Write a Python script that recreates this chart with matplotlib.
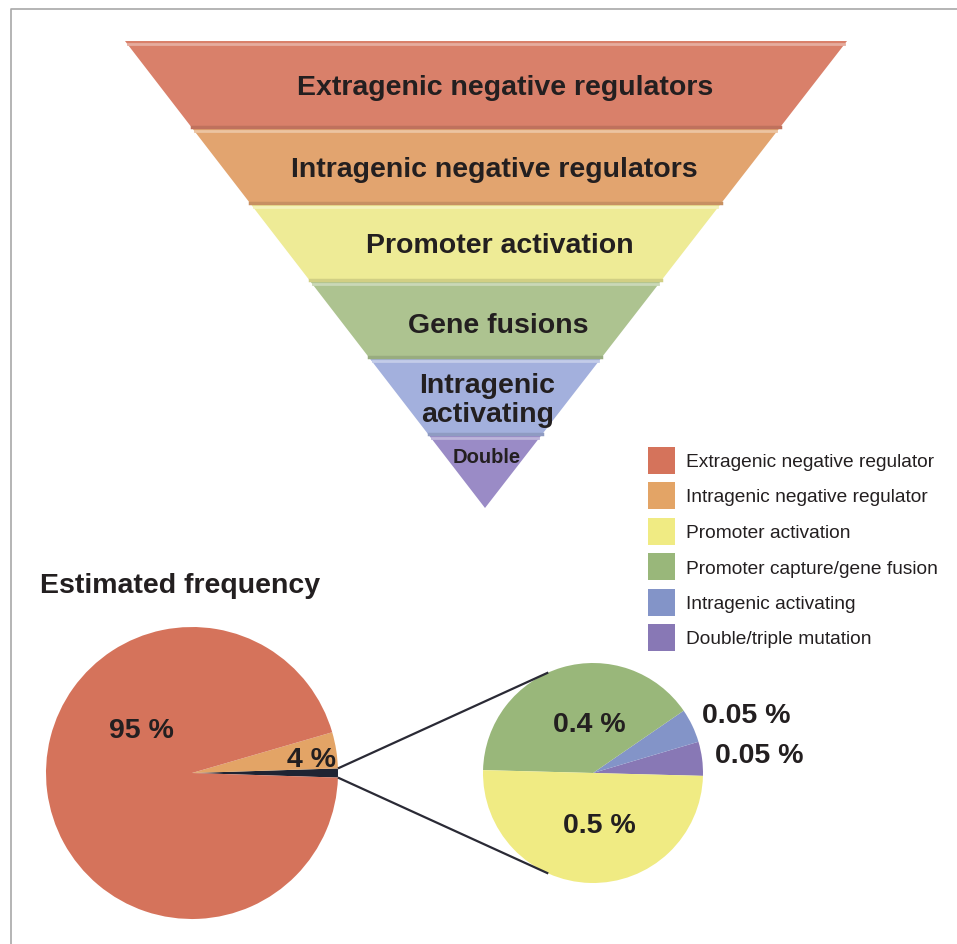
import numpy as np
import matplotlib
matplotlib.use("Agg")
import matplotlib.pyplot as plt
from matplotlib.patches import Polygon, Rectangle
from matplotlib.colors import to_rgb

plt.rcParams["font.family"] = ["Liberation Sans", "DejaVu Sans"]

# funnel layers, top to bottom
funnel_labels = ["Extragenic negative regulators", "Intragenic negative regulators",
                 "Promoter activation", "Gene fusions", "Intragenic\nactivating", "Double"]
funnel_colors = ["#d9806a", "#e2a46f", "#eeeb96", "#adc390", "#a3b0dd", "#9a8bc6"]

legend_labels = ["Extragenic negative regulator", "Intragenic negative regulator",
                 "Promoter activation", "Promoter capture/gene fusion",
                 "Intragenic activating", "Double/triple mutation"]
pie_colors = ["#d5735b", "#e3a466", "#f0eb83", "#99b77a", "#8394c8", "#8878b5"]

# estimated frequency (%)
extragenic = 95
intragenic_neg = 4
promoter = 0.5
fusion = 0.4
intra_act = 0.05
double = 0.05

H = 944
def fy(p):
    return H - p

fig = plt.figure(figsize=(9.57, 9.44), dpi=100)
ax = fig.add_axes([0, 0, 1, 1])
ax.set_xlim(0, 957)
ax.set_ylim(0, H)
ax.axis("off")

txt = "#231f20"

# frame lines
ax.plot([11, 11, 957], [fy(944), fy(9), fy(9)], color="#a8a8a8", lw=1.2)

# ---- funnel ----
top_y, apex_y = 41, 508
top_l, top_r, apex_x = 125, 847, 485
bounds = [41, 128, 204, 281, 358, 435, 508]

def edges(y):
    t = (y - top_y) / (apex_y - top_y)
    return top_l + t * (apex_x - top_l), top_r + t * (apex_x - top_r)

def shade(c, f):
    r = np.array(to_rgb(c))
    if f < 1:
        return tuple(r * f)
    return tuple(r + (1 - r) * (f - 1))

for i, col in enumerate(funnel_colors):
    y0, y1 = bounds[i], bounds[i + 1]
    l0, r0 = edges(y0)
    l1, r1 = edges(y1)
    pts = [(l0, fy(y0)), (r0, fy(y0)), (r1, fy(y1)), (l1, fy(y1))]
    ax.add_patch(Polygon(pts, closed=True, facecolor=col, edgecolor="none"))
    # bevel: light band on top, dark band at the bottom
    la, ra = edges(y0 + 3)
    ax.plot([la + 1, ra - 1], [fy(y0 + 3), fy(y0 + 3)], color=shade(col, 1.35), lw=2)
    if i < len(funnel_colors) - 1:
        lb, rb = edges(y1 - 1.5)
        ax.plot([lb + 1, rb - 1], [fy(y1 - 1.5), fy(y1 - 1.5)], color=shade(col, 0.88), lw=2.5)

funnel_text_x = [505, 494.5, 500, 498, 487.5, 487]
funnel_text_base = [95, 177, 253, 333, 393, 463]
for i, lab in enumerate(funnel_labels):
    size = 14.5 if lab == "Double" else 20.5
    for k, line in enumerate(lab.split("\n")):
        ax.text(funnel_text_x[i], fy(funnel_text_base[i] + 29 * k), line, ha="center",
                va="baseline", fontsize=size, fontweight="bold", color=txt)

# ---- legend ----
for i, (lab, col) in enumerate(zip(legend_labels, pie_colors)):
    yc = 460 + 35.5 * i
    ax.add_patch(Rectangle((648, fy(yc + 13.5)), 27, 27, facecolor=col, edgecolor="none"))
    ax.text(686, fy(yc + 7), lab, ha="left", va="baseline", fontsize=13.8, color=txt)

ax.text(40, fy(593), "Estimated frequency", ha="left", va="baseline",
        fontsize=20.5, fontweight="bold", color=txt)

# ---- main pie ----
minor = promoter + fusion + intra_act + double
main_vals = [minor, intragenic_neg, extragenic]
main_cols = ["#1f2433", pie_colors[1], pie_colors[0]]
c1 = (192, fy(773))
r1 = 146
a1 = minor / 100 * 360 / 2
ax.pie(main_vals, colors=main_cols, startangle=-a1, center=c1, radius=r1,
       frame=True, wedgeprops=dict(linewidth=0))

# ---- detail pie ----
det_vals = [double, intra_act, fusion, promoter]
det_cols = [pie_colors[5], pie_colors[4], pie_colors[3], pie_colors[2]]
c2 = (593, fy(773))
r2 = 110
ax.pie(det_vals, colors=det_cols, startangle=-1.5, center=c2, radius=r2,
       frame=True, wedgeprops=dict(linewidth=0))

# connector lines
for s in (1, -1):
    p0 = (c1[0] + r1 * np.cos(np.radians(s * a1)), c1[1] + r1 * np.sin(np.radians(s * a1)))
    p1 = (c2[0] + r2 * np.cos(np.radians(s * 114)), c2[1] + r2 * np.sin(np.radians(s * 114)))
    ax.plot([p0[0], p1[0]], [p0[1], p1[1]], color="#2a2a35", lw=1.6, solid_capstyle="butt")

# value labels
label_vals = [extragenic, intragenic_neg, fusion, promoter, intra_act, double]
label_pos = [(141, 738), (311.5, 767), (589, 732), (599, 833), (746, 723), (759.5, 763)]
for v, (x, b) in zip(label_vals, label_pos):
    ax.text(x, fy(b), f"{v:g} %", ha="center", va="baseline", fontsize=20.5,
            fontweight="bold", color=txt)

ax.set_xlim(0, 957)
ax.set_ylim(0, H)
ax.set_xticks([])
ax.set_yticks([])
ax.axis("off")

fig.savefig("out.png", dpi=100, facecolor="white")
